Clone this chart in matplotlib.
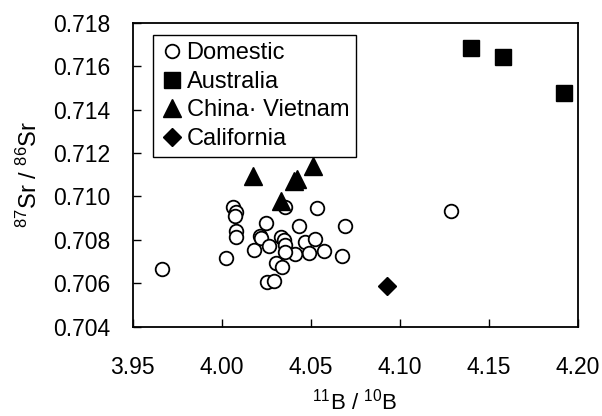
import numpy as np
import matplotlib.pyplot as plt

plt.rcParams['font.family'] = ['Liberation Sans', 'DejaVu Sans']
plt.rcParams['mathtext.default'] = 'regular'

# Domestic samples
dom_x = [3.9666, 4.0027, 4.0067, 4.0080, 4.0077, 4.0081, 4.0081, 4.0182, 4.0251, 4.0214,
         4.0222, 4.0266, 4.0332, 4.0351, 4.0356, 4.0359, 4.0434, 4.0468, 4.0523, 4.0490,
         4.0574, 4.0412, 4.0359, 4.0307, 4.0340, 4.0257, 4.0294, 4.0536, 4.0695, 4.0676,
         4.1289]
dom_y = [0.70667, 0.70718, 0.70950, 0.70927, 0.70912, 0.70839, 0.70815, 0.70754, 0.70878, 0.70819,
         0.70809, 0.70772, 0.70813, 0.70800, 0.70777, 0.70952, 0.70865, 0.70788, 0.70803, 0.70738,
         0.70750, 0.70735, 0.70746, 0.70692, 0.70676, 0.70606, 0.70611, 0.70947, 0.70865, 0.70726,
         0.70934]

# Australia
aus_x = [4.1403, 4.1580, 4.1925]
aus_y = [0.71682, 0.71643, 0.71478]

# China / Vietnam
cv_x = [4.0177, 4.0406, 4.0425, 4.0514, 4.0332]
cv_y = [0.71094, 0.71071, 0.71080, 0.71138, 0.70978]

# California
cal_x = [4.0929]
cal_y = [0.70587]

fig = plt.figure(figsize=(6.02, 4.16), dpi=100)
ax = fig.add_axes([0.2201, 0.2147, 0.7395, 0.7308])

ax.plot(dom_x, dom_y, 'o', ms=9.8, mfc='white', mec='black', mew=1.3, ls='none', label='Domestic')
ax.plot(aus_x, aus_y, 's', ms=12, color='black', ls='none', label='Australia')
ax.plot(cv_x, cv_y, '^', ms=13, color='black', ls='none', label='China\u00b7 Vietnam')
ax.plot(cal_x, cal_y, 'D', ms=8.7, color='black', ls='none', label='California')

ax.set_xlim(3.95, 4.20)
ax.set_ylim(0.704, 0.718)
ax.set_xticks(np.arange(3.95, 4.201, 0.05))
ax.set_yticks(np.arange(0.704, 0.7181, 0.002))
ax.xaxis.set_major_formatter(plt.FormatStrFormatter('%.2f'))
ax.yaxis.set_major_formatter(plt.FormatStrFormatter('%.3f'))
ax.tick_params(direction='in', length=6, width=1, labelsize=16.5)
ax.tick_params(axis='x', pad=21)
ax.tick_params(axis='y', pad=16)
for s in ax.spines.values():
    s.set_linewidth(1.3)

ax.set_xlabel('$^{11}$B / $^{10}$B', fontsize=16, labelpad=7)
ax.set_ylabel('$^{87}$Sr / $^{86}$Sr', fontsize=17, labelpad=8)

leg = ax.legend(loc='upper left', bbox_to_anchor=(0.046, 0.959), fontsize=17,
                frameon=True, fancybox=False, borderaxespad=0, handlelength=1.0,
                handletextpad=0.12, labelspacing=0.28, borderpad=0.3)
leg.get_frame().set_edgecolor('black')
leg.get_frame().set_linewidth(1.0)
leg.get_frame().set_alpha(1)

fig.savefig('out.png', dpi=100)
